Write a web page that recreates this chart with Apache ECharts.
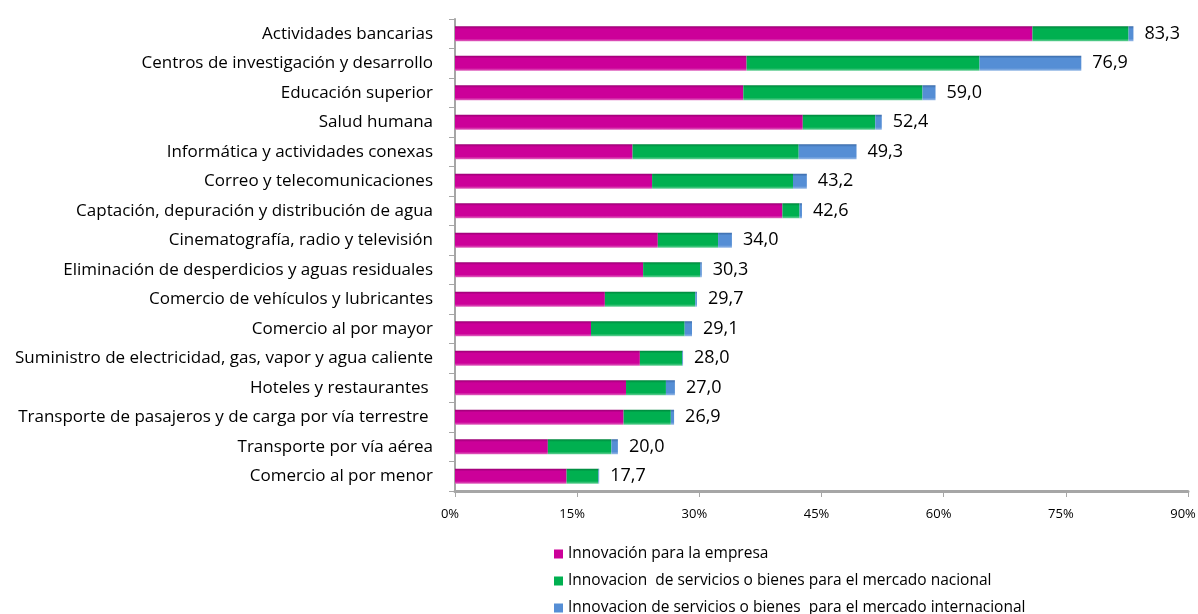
<!DOCTYPE html>
<html>
<head>
<meta charset="utf-8">
<script src="https://cdn.jsdelivr.net/npm/echarts@6/dist/echarts.min.js"></script>
<style>
html,body{margin:0;padding:0;background:#fff;}
#c{width:1198px;height:614px;}
</style>
</head>
<body>
<div id="c"></div>
<script>
const categories = [
  "Actividades bancarias",
  "Centros de investigación y desarrollo",
  "Educación superior",
  "Salud humana",
  "Informática y actividades conexas",
  "Correo y telecomunicaciones",
  "Captación, depuración y distribución de agua",
  "Cinematografía, radio y televisión",
  "Eliminación de desperdicios y aguas residuales",
  "Comercio de vehículos y lubricantes",
  "Comercio al por mayor",
  "Suministro de electricidad, gas, vapor y agua caliente",
  "Hoteles y restaurantes ",
  "Transporte de pasajeros y de carga por vía terrestre ",
  "Transporte por vía aérea",
  "Comercio al por menor"
];
const empresa =       [70.9, 35.8, 35.4, 42.7, 21.8, 24.2, 40.2, 24.9, 23.1, 18.4, 16.7, 22.7, 21.0, 20.7, 11.4, 13.7];
const nacional =      [11.8, 28.6, 22.0,  8.9, 20.4, 17.3,  2.1,  7.4,  7.0, 11.1, 11.5,  5.2,  4.9,  5.8,  7.8,  3.9];
const internacional = [ 0.6, 12.5,  1.6,  0.8,  7.1,  1.7,  0.3,  1.7,  0.2,  0.2,  0.9,  0.1,  1.1,  0.4,  0.8,  0.1];
const totals =        [83.3, 76.9, 59.0, 52.4, 49.3, 43.2, 42.6, 34.0, 30.3, 29.7, 29.1, 28.0, 27.0, 26.9, 20.0, 17.7];
const seriesNames = [
  "Innovación para la empresa",
  "Innovacion  de servicios o bienes para el mercado nacional",
  "Innovacion de servicios o bienes  para el mercado internacional"
];
const xTicks = [0, 15, 30, 45, 60, 75, 90];

const baseColors = ['#CC0099', '#00B050', '#558ED5'];
const darkColors = ['#990073', '#00843C', '#3A6AA8'];
const lightColors = ['#E066BF', '#66D096', '#95B8E6'];

function grad(i) {
  return new echarts.graphic.LinearGradient(0, 0, 0, 1, [
    {offset: 0, color: darkColors[i]},
    {offset: 0.18, color: baseColors[i]},
    {offset: 0.82, color: baseColors[i]},
    {offset: 1, color: lightColors[i]}
  ]);
}

const font = '"Open Sans", "Noto Sans", sans-serif';
const chart = echarts.init(document.getElementById('c'), null, {renderer: 'canvas'});
const dataSets = [empresa, nacional, internacional];

const series = dataSets.map((d, i) => ({
  name: seriesNames[i],
  type: 'bar',
  stack: 'total',
  barWidth: 15,
  data: d,
  itemStyle: {color: grad(i)},
  label: i === 2 ? {
    show: true,
    position: 'right',
    distance: 11,
    fontFamily: font,
    fontSize: 18,
    color: '#000',
    formatter: p => totals[p.dataIndex].toFixed(1).replace('.', ',')
  } : {show: false},
  emphasis: {disabled: true}
}));

chart.setOption({
  animation: false,
  backgroundColor: '#fff',
  grid: {left: 455, right: 10, top: 19, bottom: 123, containLabel: false, outerBoundsMode: 'none'},
  legend: {
    orient: 'vertical',
    left: 549,
    top: 541,
    height: 120,
    itemWidth: 9,
    itemHeight: 9,
    itemGap: 11,
    icon: 'rect',
    textStyle: {fontFamily: font, fontSize: 15.5, color: '#000'},
    data: seriesNames.map((n, i) => ({name: n, itemStyle: {color: baseColors[i]}}))
  },
  xAxis: {
    type: 'value',
    min: 0,
    max: 90,
    interval: 15,
    axisLine: {show: true, lineStyle: {color: '#A6A6A6', width: 3}},
    axisTick: {show: true, length: 6, lineStyle: {color: '#A6A6A6', width: 1}},
    splitLine: {show: false},
    axisLabel: {
      margin: 17,
      padding: [0, 10, 0, 0],
      fontFamily: font,
      fontSize: 13,
      color: '#000',
      formatter: v => v + '%'
    }
  },
  yAxis: {
    type: 'category',
    inverse: true,
    data: categories,
    offset: 4,
    axisLine: {show: true, lineStyle: {color: '#A6A6A6', width: 2}},
    axisTick: {show: true, length: 6, lineStyle: {color: '#A6A6A6'}},
    axisLabel: {margin: 18, fontFamily: font, fontSize: 17, color: '#000'}
  },
  series: series
});
</script>
</body>
</html>
